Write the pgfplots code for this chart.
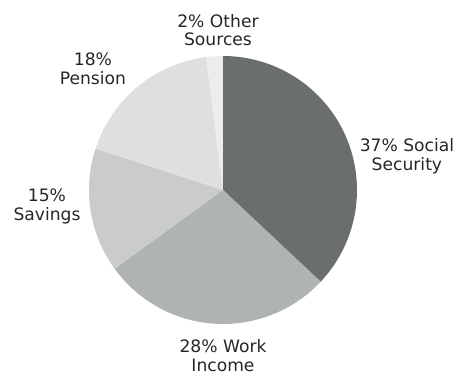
\documentclass[border=0pt]{standalone}
\usepackage{pgfplots}
\pgfplotsset{compat=1.18}
\usepgfplotslibrary{polar}
\usepackage{fontspec}
\setmainfont{DejaVu Sans}
\definecolor{cSS}{HTML}{6B6F6B}
\definecolor{cWork}{HTML}{B0B4B0}
\definecolor{cSav}{HTML}{C9CCC9}
\definecolor{cPen}{HTML}{DDE0DE}
\definecolor{cOth}{HTML}{EBEDEB}
\tikzset{lab/.style={font=\fontsize{17.2}{19}\selectfont, align=center, text=black!85, inner sep=0pt}}
\begin{document}
\begin{tikzpicture}
\begin{polaraxis}[
  hide axis,
  width=268bp, height=268bp, scale only axis,
  ymin=0, ymax=1,
  clip=false,
]
% slices: 37% SS, 28% Work, 15% Savings, 18% Pension, 2% Other (clockwise from top)
\addplot[fill=cSS, draw=none, domain=-43.2:90, samples=80] {1} -- (axis cs:0,0) -- cycle;
\addplot[fill=cWork, draw=none, domain=-144:-43.2, samples=60] {1} -- (axis cs:0,0) -- cycle;
\addplot[fill=cSav, draw=none, domain=-198:-144, samples=40] {1} -- (axis cs:0,0) -- cycle;
\addplot[fill=cPen, draw=none, domain=-262.8:-198, samples=40] {1} -- (axis cs:0,0) -- cycle;
\addplot[fill=cOth, draw=none, domain=-270:-262.8, samples=10] {1} -- (axis cs:0,0) -- cycle;
\coordinate (C) at (axis cs:0,0);
\node[lab] at (axis cs:91.8,1.194) {2\% Other\\Sources};
\node[lab] at (axis cs:137.1,1.325) {18\%\\Pension};
\node[lab] at (axis cs:10.5,1.396) {37\% Social\\Security};
\node[lab] at (axis cs:185.2,1.319) {15\%\\Savings};
\node[lab] at (axis cs:270,1.239) {28\% Work\\Income};
\end{polaraxis}
\path (C) ++(-223bp,-185bp) rectangle ++(461bp,375bp);
\end{tikzpicture}
\end{document}
